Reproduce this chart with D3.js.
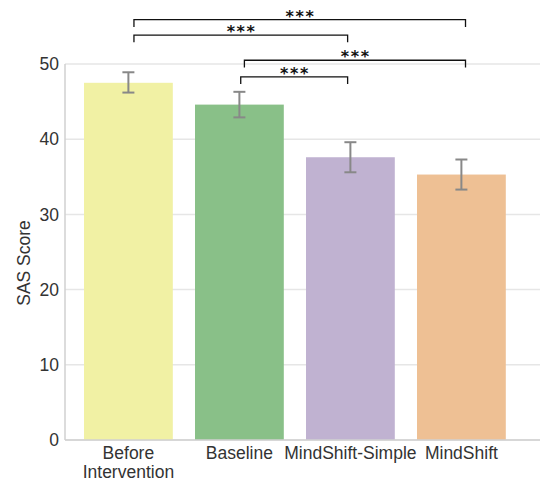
<!DOCTYPE html>
<html>
<head>
<meta charset="utf-8">
<script src="https://cdn.jsdelivr.net/npm/d3@7"></script>
<style>
  html, body { margin: 0; padding: 0; background: #fff; }
  svg { display: block; }
  text { font-family: "Liberation Sans", Arial, sans-serif; }
</style>
</head>
<body>
<svg id="chart" width="540" height="482"></svg>
<script>
// ---- data ----
const categories = ["Before Intervention", "Baseline", "MindShift-Simple", "MindShift"];
const categoryLines = [["Before", "Intervention"], ["Baseline"], ["MindShift-Simple"], ["MindShift"]];
const means = [47.5, 44.6, 37.6, 35.3];
const errLow = [46.2, 42.9, 35.6, 33.3];
const errHigh = [48.9, 46.3, 39.6, 37.3];
const colors = ["#f1f1a4", "#89c088", "#c0b2d1", "#eec094"];
const yTicks = [0, 10, 20, 30, 40, 50];
const yLabel = "SAS Score";
// significance brackets: from, to, bracket level (in score units), label
const bracketFrom = [0, 0, 1, 1];
const bracketTo = [3, 2, 3, 2];
const bracketLevel = [55.9, 53.85, 50.5, 48.3];
const bracketLabel = ["***", "***", "***", "***"];
// small horizontal nudges of bracket ends (fraction of band step)
const bracketNudgeFrom = [0.05, 0.05, 0.045, 0.012];
const bracketNudgeTo = [0.037, -0.025, 0.037, -0.025];

// ---- layout ----
const svg = d3.select("#chart");
const plotLeft = 65, plotRight = 540, plotTop = 64, plotBottom = 440;

const x = d3.scaleBand()
  .domain(categories)
  .range([72.9, 516.9])
  .paddingInner(0.2)
  .paddingOuter(0.1);

const y = d3.scaleLinear().domain([0, 50]).range([plotBottom, plotTop]);

// grid lines
svg.append("g")
  .selectAll("line")
  .data(yTicks)
  .join("line")
  .attr("x1", plotLeft).attr("x2", plotRight)
  .attr("y1", d => y(d)).attr("y2", d => y(d))
  .attr("stroke", "#e6e6e6")
  .attr("stroke-width", 1.5);

// y axis tick labels
const yAxis = d3.axisLeft(y).tickValues(yTicks).tickSize(0).tickPadding(6).tickFormat(d3.format("d"));
const gy = svg.append("g").attr("transform", `translate(${plotLeft},0)`).call(yAxis);
gy.select(".domain").remove();
gy.selectAll("text")
  .attr("font-size", 17.5)
  .attr("fill", "#333")
  .style("font-family", "'Liberation Sans', Arial, sans-serif");

// bars
svg.append("g")
  .selectAll("rect")
  .data(categories)
  .join("rect")
  .attr("x", d => x(d))
  .attr("width", x.bandwidth())
  .attr("y", (d, i) => y(means[i]))
  .attr("height", (d, i) => y(0) - y(means[i]))
  .attr("fill", (d, i) => colors[i]);

// spines (left & bottom)
svg.append("line")
  .attr("x1", plotLeft).attr("x2", plotLeft)
  .attr("y1", plotTop).attr("y2", plotBottom)
  .attr("stroke", "#d0d0d0").attr("stroke-width", 1.5);
svg.append("line")
  .attr("x1", plotLeft).attr("x2", plotRight)
  .attr("y1", plotBottom).attr("y2", plotBottom)
  .attr("stroke", "#d0d0d0").attr("stroke-width", 1.5);

// error bars
const cx = d => x(d) + x.bandwidth() / 2;
const capW = 6;
const eg = svg.append("g").attr("stroke", "#888").attr("stroke-width", 2).attr("fill", "none");
categories.forEach((c, i) => {
  eg.append("line").attr("x1", cx(c)).attr("x2", cx(c)).attr("y1", y(errLow[i])).attr("y2", y(errHigh[i]));
  eg.append("line").attr("x1", cx(c) - capW).attr("x2", cx(c) + capW).attr("y1", y(errLow[i])).attr("y2", y(errLow[i]));
  eg.append("line").attr("x1", cx(c) - capW).attr("x2", cx(c) + capW).attr("y1", y(errHigh[i])).attr("y2", y(errHigh[i]));
});

// x tick labels
const xg = svg.append("g");
categories.forEach((c, i) => {
  const t = xg.append("text")
    .attr("x", cx(c))
    .attr("y", plotBottom + 19)
    .attr("text-anchor", "middle")
    .attr("font-size", 17.5)
    .attr("fill", "#333");
  categoryLines[i].forEach((line, j) => {
    t.append("tspan").attr("x", cx(c)).attr("dy", j === 0 ? 0 : 19).text(line);
  });
});

// y axis label
svg.append("text")
  .attr("transform", `translate(30,${(plotTop + plotBottom) / 2 + 11}) rotate(-90)`)
  .attr("text-anchor", "middle")
  .attr("font-size", 17.5)
  .attr("fill", "#333")
  .text(yLabel);

// significance brackets
const step = x.step();
const tickDrop = 7.3;
const bg = svg.append("g");
bracketFrom.forEach((f, k) => {
  const x1 = cx(categories[f]) + bracketNudgeFrom[k] * step;
  const x2 = cx(categories[bracketTo[k]]) + bracketNudgeTo[k] * step;
  const yy = y(bracketLevel[k]);
  bg.append("path")
    .attr("d", `M${x1},${yy + tickDrop}V${yy}H${x2}V${yy + tickDrop}`)
    .attr("fill", "none")
    .attr("stroke", "#111")
    .attr("stroke-width", 1.3);
  bg.append("text")
    .attr("x", (x1 + x2) / 2 + 0.8)
    .attr("y", yy + 2)
    .attr("text-anchor", "middle")
    .attr("font-size", 16)
    .attr("font-weight", "bold")
    .attr("letter-spacing", 1.6)
    .style("font-family", "'DejaVu Sans', sans-serif")
    .attr("fill", "#111")
    .text(bracketLabel[k]);
});
</script>
</body>
</html>
